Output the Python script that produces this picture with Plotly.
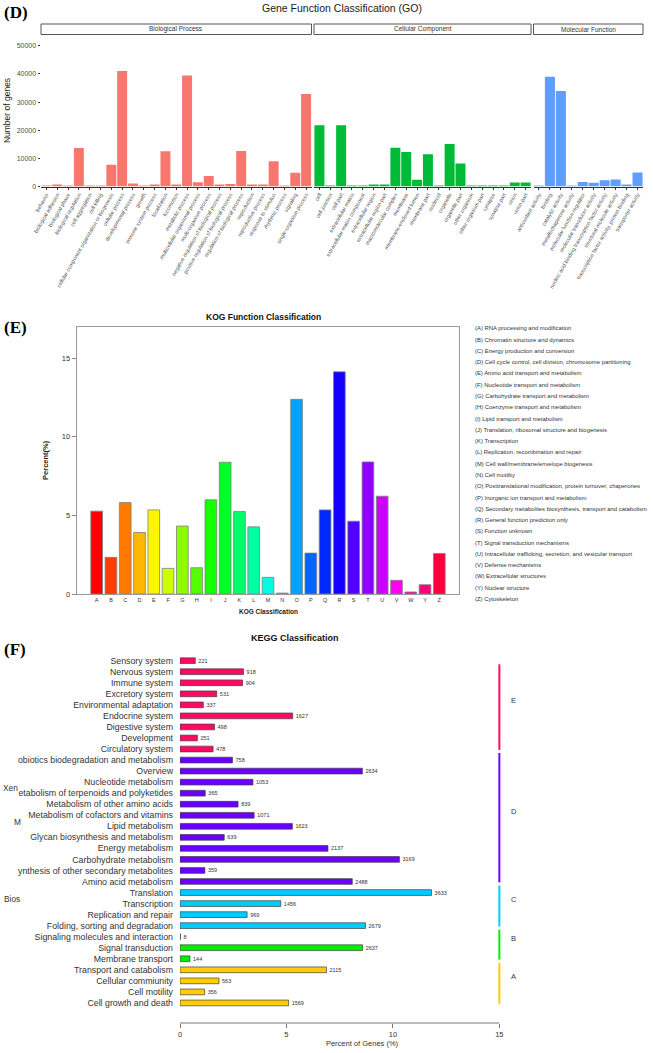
import colorsys
import plotly.graph_objects as go

W, H = 653, 1053
FONT = "Liberation Sans, Arial, sans-serif"
SERIF = "Liberation Serif, Times New Roman, serif"


def px(x):
    return x / W


def py(y):
    return 1 - y / H


# ---------------- GO data ----------------
bp_terms = ["behavior", "biological adhesion", "biological phase", "biological regulation",
            "cell aggregation", "cell killing", "cellular component organization or biogenesis",
            "cellular process", "developmental process", "growth", "immune system process",
            "localization", "locomotion", "metabolic process", "multicellular organismal process",
            "multi-organism process", "negative regulation of biological process",
            "positive regulation of biological process", "regulation of biological process",
            "reproduction", "reproductive process", "response to stimulus", "rhythmic process",
            "signaling", "single-organism process"]
bp_counts = [100, 400, 20, 13700, 5, 30, 7700, 41000, 1100, 60, 400, 12500, 500, 39400,
             1500, 3700, 700, 850, 12600, 700, 400, 9000, 20, 4900, 32900]

cc_terms = ["cell", "cell junction", "cell part", "extracellular matrix",
            "extracellular matrix component", "extracellular region", "extracellular region part",
            "macromolecular complex", "membrane", "membrane-enclosed lumen", "membrane part",
            "nucleoid", "organelle", "organelle part", "other organism", "other organism part",
            "synapse", "synapse part", "virion", "virion part"]
cc_counts = [21800, 50, 21800, 80, 30, 650, 600, 13800, 12300, 2400, 11500, 20, 15100, 8200,
             200, 200, 15, 15, 1400, 1400]

mf_terms = ["antioxidant activity", "binding", "catalytic activity", "metallochaperone activity",
            "molecular function regulator", "molecular transducer activity",
            "nucleic acid binding transcription factor activity", "structural molecule activity",
            "transcription factor activity, protein binding", "transporter activity"]
mf_counts = [200, 39000, 33900, 10, 1600, 1300, 2200, 2500, 650, 5000]

go_facets = ["Biological Process", "Cellular Component", "Molecular Function"]
go_ticks = [0, 10000, 20000, 30000, 40000, 50000]

# ---------------- KOG data ----------------
kog_letters = ["A", "B", "C", "D", "E", "F", "G", "H", "I", "J", "K", "L", "M", "N", "O",
               "P", "Q", "R", "S", "T", "U", "V", "W", "Y", "Z"]
kog_percent = [5.27, 2.33, 5.82, 3.91, 5.35, 1.63, 4.32, 1.67, 5.99, 8.38, 5.25, 4.27, 1.06,
               0.06, 12.38, 2.60, 5.35, 14.13, 4.63, 8.40, 6.22, 0.87, 0.13, 0.59, 2.58]
kog_desc = ["(A) RNA processing and modification",
            "(B) Chromatin structure and dynamics",
            "(C) Energy production and conversion",
            "(D) Cell cycle control, cell division, chromosome partitioning",
            "(E) Amino acid transport and metabolism",
            "(F) Nucleotide transport and metabolism",
            "(G) Carbohydrate transport and metabolism",
            "(H) Coenzyme transport and metabolism",
            "(I) Lipid transport and metabolism",
            "(J) Translation, ribosomal structure and biogenesis",
            "(K) Transcription",
            "(L) Replication, recombination and repair",
            "(M) Cell wall/membrane/envelope biogenesis",
            "(N) Cell motility",
            "(O) Posttranslational modification, protein turnover, chaperones",
            "(P) Inorganic ion transport and metabolism",
            "(Q) Secondary metabolites biosynthesis, transport and catabolism",
            "(R) General function prediction only",
            "(S) Function unknown",
            "(T) Signal transduction mechanisms",
            "(U) Intracellular trafficking, secretion, and vesicular transport",
            "(V) Defense mechanisms",
            "(W) Extracellular structures",
            "(Y) Nuclear structure",
            "(Z) Cytoskeleton"]
kog_ticks = [0, 5, 10, 15]

# ---------------- KEGG data ----------------
kegg_terms = ["Sensory system", "Nervous system", "Immune system", "Excretory system",
              "Environmental adaptation", "Endocrine system", "Digestive system", "Development",
              "Circulatory system", "obiotics biodegradation and metabolism", "Overview",
              "Nucleotide metabolism", "etabolism of terpenoids and polyketides",
              "Metabolism of other amino acids", "Metabolism of cofactors and vitamins",
              "Lipid metabolism", "Glycan biosynthesis and metabolism", "Energy metabolism",
              "Carbohydrate metabolism", "ynthesis of other secondary metabolites",
              "Amino acid metabolism", "Translation", "Transcription", "Replication and repair",
              "Folding, sorting and degradation", "Signaling molecules and interaction",
              "Signal transduction", "Membrane transport", "Transport and catabolism",
              "Cellular commiunity", "Cell motility", "Cell growth and death"]
kegg_counts = [221, 918, 904, 531, 337, 1627, 498, 251, 478, 758, 2634, 1053, 365, 839, 1071,
               1623, 639, 2137, 3169, 359, 2488, 3633, 1456, 969, 2679, 8, 2637, 144, 2115,
               563, 356, 1569]
kegg_groups = ["E"] * 9 + ["D"] * 12 + ["C"] * 4 + ["B"] * 3 + ["A"] * 4
kegg_total_genes = 30750
kegg_ticks = [0, 5, 10, 15]
kegg_fragments = ["Xen", "M", "Bios"]

group_colors = {"E": "#FF0A60", "D": "#6A00FF", "C": "#00CCFF", "B": "#00F000", "A": "#FFCC00"}

kegg_percent = [c / kegg_total_genes * 100 for c in kegg_counts]
kegg_rows = list(range(len(kegg_terms)))

fig = go.Figure()

# ---- GO bars ----
go_colors = ["#F8766D", "#00BA38", "#619CFF"]
for (terms, counts, col, xa) in [(bp_terms, bp_counts, go_colors[0], "x"),
                                 (cc_terms, cc_counts, go_colors[1], "x2"),
                                 (mf_terms, mf_counts, go_colors[2], "x3")]:
    fig.add_trace(go.Bar(x=terms, y=counts, xaxis=xa, yaxis="y", marker_color=col,
                         marker_line_width=0, width=0.92, showlegend=False))

# ---- KOG bars ----
kog_cols = []
for i in range(len(kog_letters)):
    r, g, b = colorsys.hsv_to_rgb(i / len(kog_letters), 1, 1)
    kog_cols.append("rgb(%d,%d,%d)" % (round(r * 255), round(g * 255), round(b * 255)))
fig.add_trace(go.Bar(x=list(range(len(kog_letters))), y=kog_percent, xaxis="x4", yaxis="y4",
                     marker_color=kog_cols, marker_line_color="#808080", marker_line_width=0.8,
                     width=0.82, showlegend=False))

# ---- KEGG bars ----
fig.add_trace(go.Bar(y=kegg_rows, x=kegg_percent, orientation="h", xaxis="x5", yaxis="y5",
                     marker_color=[group_colors[g] for g in kegg_groups],
                     marker_line_color="#404040", marker_line_width=0.7, width=0.52,
                     text=[str(c) for c in kegg_counts], texttemplate="  %{text}",
                     textposition="outside",
                     textfont=dict(size=5.5, color="#333333", family=FONT),
                     cliponaxis=False, constraintext="none", showlegend=False))

tickfont_go = dict(size=5.3, color="#4D4D4D", family=FONT)
go_xaxis_common = dict(type="category", tickangle=-60, tickfont=tickfont_go, ticks="outside",
                       ticklen=2, tickcolor="#333333", showline=True, linecolor="#333333",
                       linewidth=1, showgrid=False, zeroline=False, anchor="y", automargin=False)

kegg_bottom_px = 1023
kegg_top_px = 650
row0_px, row_step_px = 660.7, 11.04
kegg_x_per_unit = 21.29
kegg_x_left, kegg_x_right = 180, 544

fig.update_layout(
    width=W, height=H, autosize=False,
    margin=dict(l=0, r=0, t=0, b=0),
    paper_bgcolor="white", plot_bgcolor="white",
    font=dict(family=FONT, color="#333333"),
    showlegend=False,
    xaxis=dict(domain=[px(41), px(311.5)], range=[-0.5, len(bp_terms) - 0.5], **go_xaxis_common),
    xaxis2=dict(domain=[px(314), px(531)], range=[-0.5, len(cc_terms) - 0.5], **go_xaxis_common),
    xaxis3=dict(domain=[px(533.5), px(643)], range=[-0.5, len(mf_terms) - 0.5], **go_xaxis_common),
    yaxis=dict(domain=[py(186.5), py(34.5)], range=[0, 54000], anchor="x", tickvals=go_ticks,
               tickformat="d",
               tickfont=dict(size=7, color="#4D4D4D", family=FONT), ticks="outside", ticklen=2.5,
               tickcolor="#333333", showline=False, showgrid=False, zeroline=False,
               automargin=False,
               title=dict(text="Number of genes", font=dict(size=8.5, color="#1A1A1A", family=FONT),
                          standoff=4)),
    xaxis4=dict(domain=[px(76.7), px(459.3)], range=[-1.4, len(kog_letters) - 1 + 1.4],
                anchor="y4", tickvals=list(range(len(kog_letters))), ticktext=kog_letters,
                tickfont=dict(size=5.5, color="#333333", family=FONT), ticks="",
                showline=True, mirror=True, linecolor="#999999", linewidth=1,
                showgrid=False, zeroline=False, automargin=False),
    yaxis4=dict(domain=[py(594), py(326.7)], range=[0, 17], anchor="x4", tickvals=kog_ticks,
                tickfont=dict(size=7.5, color="#333333", family=FONT), ticks="outside", ticklen=4,
                tickcolor="#888888", showline=True, mirror=True, linecolor="#999999", linewidth=1,
                showgrid=False, zeroline=False, automargin=False,
                title=dict(text="<b>Percent(%)</b>", font=dict(size=7.5, color="#222222", family=FONT),
                           standoff=12)),
    xaxis5=dict(domain=[px(kegg_x_left), px(kegg_x_right)],
                range=[0, (kegg_x_right - kegg_x_left) / kegg_x_per_unit], anchor="y5",
                tickvals=kegg_ticks, tickfont=dict(size=7.5, color="#333333", family=FONT),
                ticks="outside", ticklen=4, tickcolor="#777777", showline=False, showgrid=False,
                zeroline=False, automargin=False,
                title=dict(text="Percent of Genes (%)", font=dict(size=7.5, color="#333333", family=FONT),
                           standoff=2)),
    yaxis5=dict(domain=[py(kegg_bottom_px), py(kegg_top_px)],
                range=[(kegg_bottom_px - row0_px) / row_step_px, (kegg_top_px - row0_px) / row_step_px],
                anchor="x5", tickvals=kegg_rows, ticktext=kegg_terms,
                tickfont=dict(size=8.8, color="#333333", family=FONT), ticks="",
                ticklabelstandoff=6, showline=False, showgrid=False, zeroline=False,
                automargin=False),
)

shapes = []
annotations = []

# GO strips
strip_x = [(41, 311.5), (314, 531), (533.5, 643)]
for (x0, x1), name in zip(strip_x, go_facets):
    shapes.append(dict(type="rect", xref="paper", yref="paper", x0=px(x0), x1=px(x1),
                       y0=py(34.5), y1=py(24), line=dict(color="#555555", width=1),
                       fillcolor="white"))
    annotations.append(dict(text=name, xref="paper", yref="paper", x=px((x0 + x1) / 2),
                            y=py(29.3), showarrow=False, xanchor="center", yanchor="middle",
                            font=dict(size=6.5, color="#333333", family=FONT)))

# titles and panel letters
annotations += [
    dict(text="Gene Function Classification (GO)", x=px(341.7), y=py(7.5), xref="paper", yref="paper",
         showarrow=False, xanchor="center", yanchor="middle",
         font=dict(size=10.5, color="#1A1A1A", family=FONT)),
    dict(text="<b>(D)</b>", x=px(2), y=py(12), xref="paper", yref="paper", showarrow=False,
         xanchor="left", yanchor="middle", font=dict(size=17, color="black", family=SERIF)),
    dict(text="<b>KOG Function Classification</b>", x=px(263), y=py(317), xref="paper",
         yref="paper", showarrow=False, xanchor="center", yanchor="middle",
         font=dict(size=8.5, color="#111111", family=FONT)),
    dict(text="<b>(E)</b>", x=px(2), y=py(327.5), xref="paper", yref="paper", showarrow=False,
         xanchor="left", yanchor="middle", font=dict(size=17, color="black", family=SERIF)),
    dict(text="<b>KOG Classification</b>", x=px(268), y=py(611), xref="paper", yref="paper",
         showarrow=False, xanchor="center", yanchor="middle",
         font=dict(size=6.5, color="#222222", family=FONT)),
    dict(text="<b>KEGG Classification</b>", x=px(295), y=py(638), xref="paper", yref="paper",
         showarrow=False, xanchor="center", yanchor="middle",
         font=dict(size=9, color="#111111", family=FONT)),
    dict(text="<b>(F)</b>", x=px(2), y=py(649), xref="paper", yref="paper", showarrow=False,
         xanchor="left", yanchor="middle", font=dict(size=17, color="black", family=SERIF)),
]

# KOG legend
for i, d in enumerate(kog_desc):
    annotations.append(dict(text=d, x=px(472.7), y=py(328.3 + i * 11.28), xref="paper",
                            yref="paper", showarrow=False, xanchor="left", yanchor="middle",
                            font=dict(size=5.9, color="#333333", family=FONT)))

# KEGG axis line
shapes.append(dict(type="line", xref="x5", yref="paper", x0=0, x1=15, y0=py(kegg_bottom_px),
                   y1=py(kegg_bottom_px), line=dict(color="#777777", width=1)))

# KEGG group bars
plot_top_row = 0.33
order = ["E", "D", "C", "B", "A"]
for g in order:
    idx = [i for i, gg in enumerate(kegg_groups) if gg == g]
    y0 = max(idx[0] - 0.64, plot_top_row)
    y1 = idx[-1] + 0.08
    shapes.append(dict(type="line", xref="x5", yref="y5", x0=15, x1=15, y0=y0, y1=y1,
                       line=dict(color=group_colors[g], width=2)))
    annotations.append(dict(text=g, xref="x5", yref="y5", x=15.68, y=(y0 + y1) / 2 - 0.6,
                            showarrow=False, xanchor="center", yanchor="middle",
                            font=dict(size=7.5, color="#333344", family=FONT)))

# clipped label fragments from original
frag_pos = [(0.5, 788), (12, 822), (2, 899)]
for t, (x, y) in zip(kegg_fragments, frag_pos):
    annotations.append(dict(text=t, x=px(x), y=py(y), xref="paper", yref="paper",
                            showarrow=False, xanchor="left", yanchor="middle",
                            font=dict(size=8.3, color="#333333", family=FONT)))

fig.update_layout(shapes=shapes, annotations=annotations)
fig.write_html("out.html", config={"displayModeBar": False},
               post_script="document.body.style.margin='0';document.body.style.overflow='hidden';")
